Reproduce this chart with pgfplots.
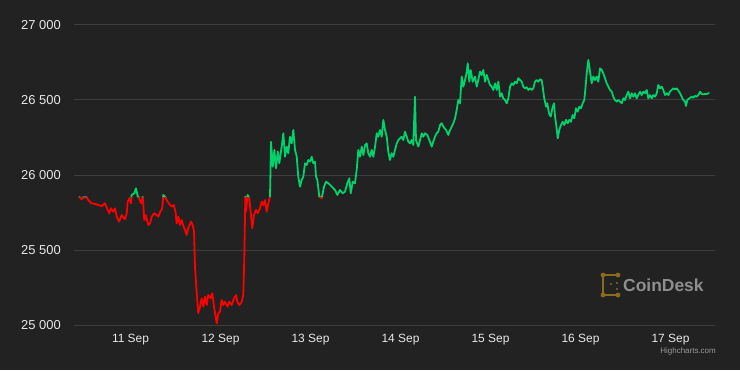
\documentclass[border=0pt]{standalone}
\usepackage{pgfplots}
\usepackage{pgfplotstable}
\pgfplotsset{compat=1.18}
\usepackage{fontspec}
\setmainfont{Liberation Sans}
\definecolor{bg}{HTML}{222222}
\definecolor{gridc}{HTML}{3E3E3E}
\definecolor{upc}{HTML}{00D36B}
\definecolor{downc}{HTML}{FF0000}
\definecolor{txt}{HTML}{E8E8E8}
\definecolor{gold}{HTML}{8A6A1C}
\definecolor{logotxt}{HTML}{8E8E8E}
\definecolor{credit}{HTML}{999999}

\pgfplotstableread{
d v
-0.572 25855
-0.542 25838
-0.524 25851
-0.487 25851
-0.469 25833
-0.431 25811
-0.394 25807
-0.358 25800
-0.320 25793
-0.283 25811
-0.253 25767
-0.236 25745
-0.217 25778
-0.191 25755
-0.172 25778
-0.153 25722
-0.128 25689
-0.098 25733
-0.061 25705
-0.042 25745
-0.031 25822
-0.013 25844
0.006 25811
0.013 25867
0.042 25878
0.061 25911
0.080 25860
0.098 25844
0.117 25811
0.136 25855
0.153 25700
0.169 25733
0.198 25667
0.217 25678
0.236 25722
0.264 25745
0.291 25733
0.309 25722
0.331 25755
0.353 25778
0.364 25867
0.383 25855
0.413 25822
0.439 25800
0.464 25789
0.483 25800
0.502 25745
0.513 25678
0.531 25722
0.550 25667
0.569 25700
0.587 25660
0.606 25633
0.624 25600
0.642 25645
0.672 25689
0.691 25667
0.706 25622
0.717 25378
0.736 25211
0.753 25078
0.772 25122
0.791 25178
0.809 25122
0.828 25189
0.847 25133
0.864 25200
0.891 25178
0.909 25211
0.928 25122
0.958 25011
0.976 25078
0.994 25089
1.013 25167
1.031 25133
1.050 25155
1.076 25122
1.098 25155
1.124 25133
1.150 25178
1.172 25200
1.187 25155
1.209 25133
1.236 25155
1.253 25200
1.264 25433
1.276 25855
1.283 25755
1.302 25867
1.320 25844
1.336 25745
1.353 25645
1.372 25733
1.394 25767
1.413 25745
1.439 25778
1.458 25822
1.476 25800
1.494 25833
1.513 25755
1.531 25811
1.550 25855
1.561 26222
1.580 26055
1.598 26167
1.617 26045
1.636 26156
1.653 26078
1.680 26189
1.698 26278
1.717 26122
1.736 26189
1.753 26145
1.772 26255
1.791 26211
1.809 26300
1.828 26167
1.847 26122
1.864 25989
1.883 25922
1.902 25967
1.920 25989
1.939 26078
1.958 26067
1.976 26100
1.994 26089
2.013 26122
2.031 26078
2.050 26089
2.061 25989
2.076 25967
2.098 25855
2.124 25844
2.150 25922
2.172 25955
2.198 25945
2.236 25922
2.272 25900
2.298 25867
2.328 25900
2.358 25878
2.383 25889
2.409 25945
2.431 25978
2.447 25878
2.469 25955
2.494 25945
2.513 26033
2.531 26167
2.550 26122
2.569 26189
2.587 26133
2.606 26200
2.624 26211
2.642 26145
2.661 26122
2.680 26167
2.698 26122
2.717 26189
2.736 26278
2.753 26255
2.772 26300
2.791 26255
2.809 26367
2.828 26300
2.847 26255
2.864 26156
2.883 26100
2.902 26145
2.920 26122
2.939 26167
2.958 26211
2.976 26233
2.994 26244
3.013 26255
3.031 26233
3.050 26289
3.069 26255
3.087 26222
3.106 26211
3.124 26233
3.142 26200
3.161 26522
3.172 26233
3.198 26189
3.217 26233
3.236 26278
3.253 26255
3.272 26278
3.298 26267
3.320 26233
3.347 26189
3.364 26222
3.383 26255
3.402 26278
3.420 26289
3.439 26333
3.458 26345
3.476 26322
3.506 26300
3.531 26267
3.550 26300
3.569 26322
3.587 26345
3.606 26378
3.624 26433
3.642 26500
3.661 26478
3.680 26656
3.698 26589
3.717 26633
3.736 26689
3.747 26745
3.764 26622
3.780 26700
3.802 26622
3.828 26656
3.847 26589
3.864 26633
3.883 26689
3.902 26667
3.920 26700
3.939 26622
3.958 26667
3.976 26633
3.994 26600
4.013 26589
4.031 26567
4.050 26611
4.069 26567
4.087 26622
4.106 26522
4.124 26545
4.142 26511
4.161 26500
4.180 26478
4.198 26511
4.217 26589
4.236 26611
4.253 26600
4.272 26622
4.291 26611
4.309 26645
4.328 26633
4.347 26622
4.364 26589
4.383 26578
4.402 26585
4.420 26567
4.439 26578
4.458 26567
4.476 26578
4.494 26622
4.513 26633
4.531 26622
4.550 26638
4.569 26633
4.580 26589
4.594 26522
4.617 26455
4.631 26478
4.650 26411
4.669 26389
4.691 26455
4.706 26478
4.717 26389
4.728 26345
4.747 26244
4.764 26300
4.783 26333
4.802 26355
4.820 26333
4.839 26367
4.858 26345
4.876 26367
4.894 26355
4.913 26400
4.931 26378
4.950 26445
4.969 26422
4.987 26455
5.006 26445
5.024 26478
5.042 26500
5.053 26567
5.069 26678
5.087 26767
5.106 26689
5.124 26611
5.142 26656
5.161 26633
5.180 26656
5.198 26622
5.217 26711
5.236 26700
5.253 26678
5.272 26645
5.291 26611
5.309 26589
5.328 26567
5.347 26555
5.364 26522
5.383 26500
5.402 26489
5.420 26500
5.439 26489
5.458 26478
5.476 26511
5.494 26500
5.513 26533
5.531 26555
5.550 26511
5.569 26545
5.587 26522
5.606 26545
5.624 26511
5.642 26533
5.661 26555
5.680 26533
5.698 26555
5.717 26545
5.736 26567
5.753 26511
5.772 26533
5.791 26511
5.809 26533
5.828 26522
5.847 26545
5.864 26600
5.883 26578
5.902 26589
5.920 26567
5.939 26533
5.958 26545
5.976 26533
5.994 26555
6.013 26567
6.031 26578
6.050 26571
6.069 26578
6.087 26563
6.106 26545
6.124 26522
6.142 26500
6.161 26489
6.172 26460
6.187 26500
6.209 26511
6.236 26522
6.253 26515
6.272 26527
6.291 26522
6.309 26533
6.328 26555
6.347 26540
6.364 26538
6.383 26540
6.402 26540
6.431 26548
}\price

\begin{document}
\begin{tikzpicture}[x=1bp,y=1bp]
\fill[bg] (0,0) rectangle (740,370);
\useasboundingbox (0,0) rectangle (740,370);
\begin{axis}[
  at={(74bp,45bp)}, anchor=south west,
  scale only axis, width=641bp, height=300bp,
  xmin=-0.6278, xmax=6.4944, ymin=25000, ymax=27000,
  scaled y ticks=false,
  clip=false,
  axis line style={draw=none},
  tick style={draw=none},
  major tick length=0pt,
  ymajorgrids, grid style={gridc, line width=1bp},
  xtick={0,1,2,3,4,5,6},
  xticklabels={11 Sep,12 Sep,13 Sep,14 Sep,15 Sep,16 Sep,17 Sep},
  ytick={25000,25500,26000,26500,27000},
  yticklabels={25 000,25 500,26 000,26 500,27 000},
  xticklabel style={font=\fontsize{12}{14}\selectfont, text=txt, anchor=north, inner sep=0pt, yshift=-9bp},
  yticklabel style={font=\fontsize{13}{15}\selectfont, text=txt, anchor=east, inner sep=0pt, xshift=-13bp},
]
\begin{scope}
  \clip (axis cs:-0.6278,25852) rectangle (axis cs:6.4944,27050);
  \addplot[upc, line width=1.8bp, line join=round] table[x=d,y=v]{\price};
\end{scope}
\begin{scope}
  \clip (axis cs:-0.6278,24930) rectangle (axis cs:6.4944,25852);
  \addplot[downc, line width=1.8bp, line join=round] table[x=d,y=v]{\price};
\end{scope}
\end{axis}
% CoinDesk logo
\begin{scope}[gold]
  \draw[line width=2.8bp] (603,95) -- (603,75);
  \draw[line width=2.8bp] (603,95) -- (618,95);
  \draw[line width=2.8bp] (603,75) -- (618,75);
  \fill (603,95) circle (2.4);
  \fill (603,75) circle (2.4);
  \fill (618,95) circle (2.4);
  \fill (618,75) circle (2.4);
  \fill (611,86) circle (1.1);
  \fill (617,87) circle (1.1);
  \fill (617,81) circle (1.1);
\end{scope}
\node[anchor=west, inner sep=0pt, text=logotxt, font=\fontsize{17.5}{20}\selectfont\bfseries] at (623,85) {CoinDesk};
\node[anchor=east, inner sep=0pt, text=credit, font=\fontsize{8}{9}\selectfont] at (716,18.5) {Highcharts.com};
\end{tikzpicture}
\end{document}
